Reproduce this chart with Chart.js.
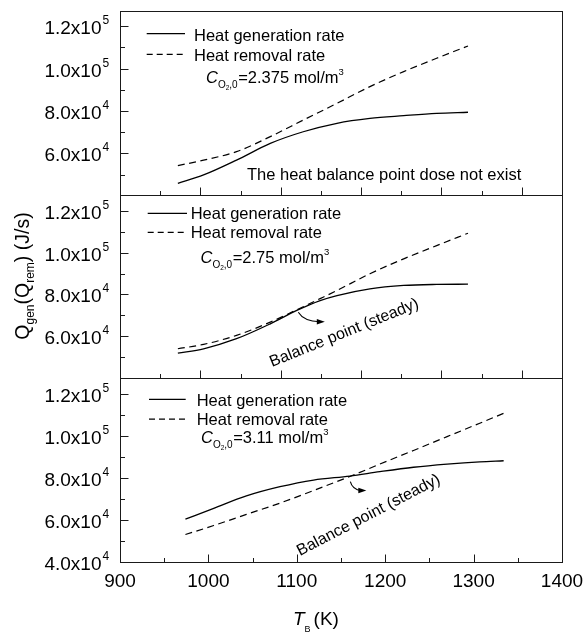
<!DOCTYPE html>
<html><head><meta charset="utf-8">
<script src="https://cdn.jsdelivr.net/npm/chart.js@4.4.0/dist/chart.umd.min.js"></script>
<style>html,body{margin:0;padding:0;background:#fff;}#wrap{width:586px;height:643px;position:relative;}</style>
</head><body><div id="wrap"><canvas id="c" width="586" height="643"></canvas></div>
<script>
// ---- data ----
const seriesNames = ['Heat generation rate', 'Heat removal rate'];
const concLabels = ['2.375', '2.75', '3.11'];
const noteText = 'The heat balance point dose not exist';
const balanceText = 'Balance point (steady)';

// Panel 1 (C = 2.375)
const temp1 = [972, 1004, 1045, 1087, 1128, 1170, 1211, 1253, 1294, 1333];
const gen1  = [45800, 49800, 56800, 64700, 70200, 74200, 76500, 77800, 78900, 79400];
const rem1  = [54200, 56800, 60800, 67900, 75700, 83600, 91500, 98600, 104900, 110700];
// Panel 2 (C = 2.75)
const temp2 = [972, 1004, 1045, 1087, 1120, 1149, 1170, 1211, 1253, 1294, 1333];
const gen2  = [52000, 54100, 58900, 66000, 72400, 77100, 79500, 82700, 84300, 84800, 84900];
const rem2  = [54100, 56200, 60500, 66800, 72700, 78000, 81900, 89900, 97000, 103300, 109200];
// Panel 3 (C = 3.11)
const temp3 = [974, 1006, 1043, 1081, 1119, 1160, 1194, 1232, 1270, 1307, 1334];
const gen3  = [60400, 65600, 71500, 75900, 79100, 81000, 83100, 85200, 86700, 87800, 88300];
const rem3  = [53100, 57400, 62700, 68100, 74100, 80800, 86700, 93200, 99800, 106200, 110900];

// balance points [T, Q]
const balance2 = [1120, 72500];
const balance3 = [1160, 81000];

// ticks
const xTickVals = [900, 1000, 1100, 1200, 1300, 1400];
const xTickLabels = ['900', '1000', '1100', '1200', '1300', '1400'];
const xMinorBottom = [950, 1050, 1150, 1250, 1350];
const xMajorTop = [1000, 1100, 1200, 1300, 1400];
const xMinorTop = [950, 1050, 1150, 1250, 1350];
const yMajorVals = [40000, 60000, 80000, 100000, 120000];
const yMinorVals = [50000, 70000, 90000, 110000];
const yTickMant = ['4.0x10', '6.0x10', '8.0x10', '1.0x10', '1.2x10'];
const yTickExp = ['4', '4', '4', '5', '5'];

const pts = (xs, ys) => xs.map((x, i) => ({x: x, y: ys[i]}));
const FONT = '"Liberation Sans", Arial, sans-serif';

function drawRich(ctx, segs, x, y) {
  let cx = x;
  segs.forEach(s => {
    ctx.font = (s.italic ? 'italic ' : '') + s.size + 'px ' + FONT;
    ctx.fillText(s.t, cx, y + (s.dy || 0));
    cx += ctx.measureText(s.t).width + (s.gap || 0);
  });
  return cx - x;
}
function richWidth(ctx, segs) {
  let w = 0;
  segs.forEach(s => { ctx.font = (s.italic ? 'italic ' : '') + s.size + 'px ' + FONT; w += ctx.measureText(s.t).width + (s.gap || 0); });
  return w;
}

const decor = {
  id: 'decor',
  afterDraw(chart) {
    const ctx = chart.ctx, ca = chart.chartArea, S = chart.scales;
    const panels = [
      {y: S.y1, x: S.xTop, labelFrom: 1, major: xMajorTop, minor: xMinorTop,
       leg: {l1: 22.7, t1: 29.7, l2: 43.3, t2: 49.7, lx0: 146.7, lx1: 185, tx: 194, cx: 206, cy: 72.3}},
      {y: S.y2, x: S.xTop, labelFrom: 1, major: xMajorTop, minor: xMinorTop,
       leg: {l1: 18.8, t1: 24.6, l2: 37.8, t2: 43.6, lx0: 147.7, lx1: 187, tx: 190.7, cx: 200.5, cy: 68}},
      {y: S.y3, x: S.x, labelFrom: 0, major: xTickVals, minor: xMinorBottom,
       leg: {l1: 21, t1: 27.7, l2: 40.7, t2: 46.7, lx0: 149, lx1: 185.7, tx: 196.7, cx: 201, cy: 64.4}}
    ];
    const L = Math.round(ca.left) + 0.5, R = Math.round(ca.right) + 0.5;
    ctx.save();
    ctx.strokeStyle = '#1a1a1a';
    ctx.fillStyle = '#000';
    ctx.lineWidth = 1;
    panels.forEach((p, i) => {
      const T = Math.round(p.y.top) + 0.5, B = Math.round(p.y.bottom) + 0.5;
      ctx.strokeRect(L, T, R - L, B - T);
      // y ticks (inward)
      ctx.beginPath();
      yMajorVals.forEach(v => { if (v >= p.y.min && v <= p.y.max) { const py = Math.round(p.y.getPixelForValue(v)) + 0.5; ctx.moveTo(L, py); ctx.lineTo(L + 8, py); } });
      yMinorVals.forEach(v => { if (v >= p.y.min && v <= p.y.max) { const py = Math.round(p.y.getPixelForValue(v)) + 0.5; ctx.moveTo(L, py); ctx.lineTo(L + 4.5, py); } });
      // x ticks (inward, at bottom of panel)
      p.major.forEach(v => { const px = Math.round(p.x.getPixelForValue(v)) + 0.5; ctx.moveTo(px, B); ctx.lineTo(px, B - 8); });
      p.minor.forEach(v => { const px = Math.round(p.x.getPixelForValue(v)) + 0.5; ctx.moveTo(px, B); ctx.lineTo(px, B - 4.5); });
      ctx.stroke();
      // y tick labels
      yMajorVals.forEach((v, k) => {
        if (k < p.labelFrom) return;
        const py = p.y.getPixelForValue(v);
        ctx.textAlign = 'right'; ctx.textBaseline = 'alphabetic';
        ctx.font = '19px ' + FONT;
        ctx.fillText(yTickMant[k], 101.5, py + 8);
        ctx.textAlign = 'left';
        ctx.font = '12px ' + FONT;
        ctx.fillText(yTickExp[k], 102.5, py - 2);
      });
      // legend
      const g = p.leg, top = p.y.top;
      ctx.lineWidth = 1.3; ctx.strokeStyle = '#000';
      ctx.setLineDash([]);
      ctx.beginPath(); ctx.moveTo(g.lx0, top + g.l1); ctx.lineTo(g.lx1, top + g.l1); ctx.stroke();
      ctx.setLineDash([6, 4]);
      ctx.beginPath(); ctx.moveTo(g.lx0, top + g.l2); ctx.lineTo(g.lx1, top + g.l2); ctx.stroke();
      ctx.setLineDash([]);
      ctx.lineWidth = 1; ctx.strokeStyle = '#1a1a1a';
      ctx.textAlign = 'left';
      ctx.font = '16.5px ' + FONT;
      ctx.fillText(seriesNames[0], g.tx, top + g.t1);
      ctx.fillText(seriesNames[1], g.tx, top + g.t2);
      drawRich(ctx, [
        {t: 'C', size: 16.5, italic: true},
        {t: 'O', size: 10, dy: 5},
        {t: '2', size: 6.5, dy: 7},
        {t: ',0', size: 10, dy: 5, gap: 0.5},
        {t: '=' + concLabels[i] + ' mol/m', size: 16.5},
        {t: '3', size: 9.5, dy: -8}
      ], g.cx, top + g.cy);
    });
    // x tick labels (bottom)
    ctx.font = '19px ' + FONT; ctx.textAlign = 'center';
    xTickVals.forEach((v, k) => ctx.fillText(xTickLabels[k], S.x.getPixelForValue(v), 587));
    // x title
    ctx.textAlign = 'left';
    drawRich(ctx, [
      {t: 'T', size: 19, italic: true},
      {t: 'B', size: 9, dy: 7, gap: 3},
      {t: '(K)', size: 19}
    ], 293, 625);
    // y title (rotated)
    const ysegs = [
      {t: 'Q', size: 19.5}, {t: 'gen', size: 12, dy: 5},
      {t: '(', size: 19.5}, {t: 'Q', size: 19.5}, {t: 'rem', size: 12, dy: 5},
      {t: ') (J/s)', size: 19.5}
    ];
    const yw = richWidth(ctx, ysegs);
    ctx.save(); ctx.translate(29, 276); ctx.rotate(-Math.PI / 2);
    drawRich(ctx, ysegs, -yw / 2, 0);
    ctx.restore();
    // note panel 1
    ctx.font = '16.5px ' + FONT;
    ctx.fillText(noteText, 247, S.y1.top + 169);
    // balance texts
    ctx.font = '16px ' + FONT;
    ctx.save(); ctx.translate(272, 367); ctx.rotate(-22 * Math.PI / 180); ctx.fillText(balanceText, 0, 0); ctx.restore();
    ctx.save(); ctx.translate(300, 556); ctx.rotate(-27.5 * Math.PI / 180); ctx.fillText(balanceText, 0, 0); ctx.restore();
    // arrows
    function arrow(bx, by, sdx, sdy, cdx, cdy, edx, edy) {
      ctx.strokeStyle = '#000'; ctx.lineWidth = 1.1;
      ctx.beginPath(); ctx.moveTo(bx + sdx, by + sdy); ctx.quadraticCurveTo(bx + cdx, by + cdy, bx + edx - 4, by + edy); ctx.stroke();
      ctx.beginPath(); ctx.moveTo(bx + edx + 1, by + edy); ctx.lineTo(bx + edx - 7, by + edy - 2.8); ctx.lineTo(bx + edx - 7, by + edy + 2.8); ctx.closePath(); ctx.fill();
    }
    const b2x = S.xTop.getPixelForValue(balance2[0]), b2y = S.y2.getPixelForValue(balance2[1]);
    arrow(b2x, b2y, 1.5, 2, 7, 11, 27, 11.5);
    const b3x = S.x.getPixelForValue(balance3[0]), b3y = S.y3.getPixelForValue(balance3[1]);
    arrow(b3x, b3y, 0.5, 5.5, 2.5, 13.5, 15.5, 14.5);
    ctx.restore();
  }
};

const solid = {borderColor: '#000', borderWidth: 1.3, pointRadius: 0, fill: false, cubicInterpolationMode: 'monotone'};
const dashed = Object.assign({}, solid, {borderDash: [7, 4.5], borderWidth: 1.2});

new Chart(document.getElementById('c').getContext('2d'), {
  type: 'line',
  data: {datasets: [
    Object.assign({label: seriesNames[0], data: pts(temp1, gen1), xAxisID: 'xTop', yAxisID: 'y1'}, solid),
    Object.assign({label: seriesNames[1], data: pts(temp1, rem1), xAxisID: 'xTop', yAxisID: 'y1'}, dashed),
    Object.assign({label: seriesNames[0], data: pts(temp2, gen2), xAxisID: 'xTop', yAxisID: 'y2'}, solid),
    Object.assign({label: seriesNames[1], data: pts(temp2, rem2), xAxisID: 'xTop', yAxisID: 'y2'}, dashed),
    Object.assign({label: seriesNames[0], data: pts(temp3, gen3), xAxisID: 'x', yAxisID: 'y3'}, solid),
    Object.assign({label: seriesNames[1], data: pts(temp3, rem3), xAxisID: 'x', yAxisID: 'y3'}, dashed)
  ]},
  options: {
    animation: false, responsive: false, devicePixelRatio: 1,
    layout: {padding: {left: 0, right: 24, top: 11, bottom: 0}},
    plugins: {legend: {display: false}, tooltip: {enabled: false}},
    scales: {
      x: {type: 'linear', position: 'bottom', min: 900, max: 1400, grid: {display: false}, border: {display: false}, ticks: {display: false}, afterFit: s => { s.height = 81; }},
      xTop: {type: 'linear', position: 'bottom', min: 900, max: 1450, display: false},
      y1: {type: 'linear', position: 'left', stack: 'panels', stackWeight: 1, weight: 3, min: 40500, max: 127200, grid: {display: false}, border: {display: false}, ticks: {display: false}, afterFit: s => { s.width = 120; }},
      y2: {type: 'linear', position: 'left', stack: 'panels', stackWeight: 1, weight: 2, min: 40000, max: 127600, grid: {display: false}, border: {display: false}, ticks: {display: false}, afterFit: s => { s.width = 120; }},
      y3: {type: 'linear', position: 'left', stack: 'panels', stackWeight: 1, weight: 1, min: 40000, max: 127600, grid: {display: false}, border: {display: false}, ticks: {display: false}, afterFit: s => { s.width = 120; }}
    }
  },
  plugins: [decor]
});
</script></body></html>
